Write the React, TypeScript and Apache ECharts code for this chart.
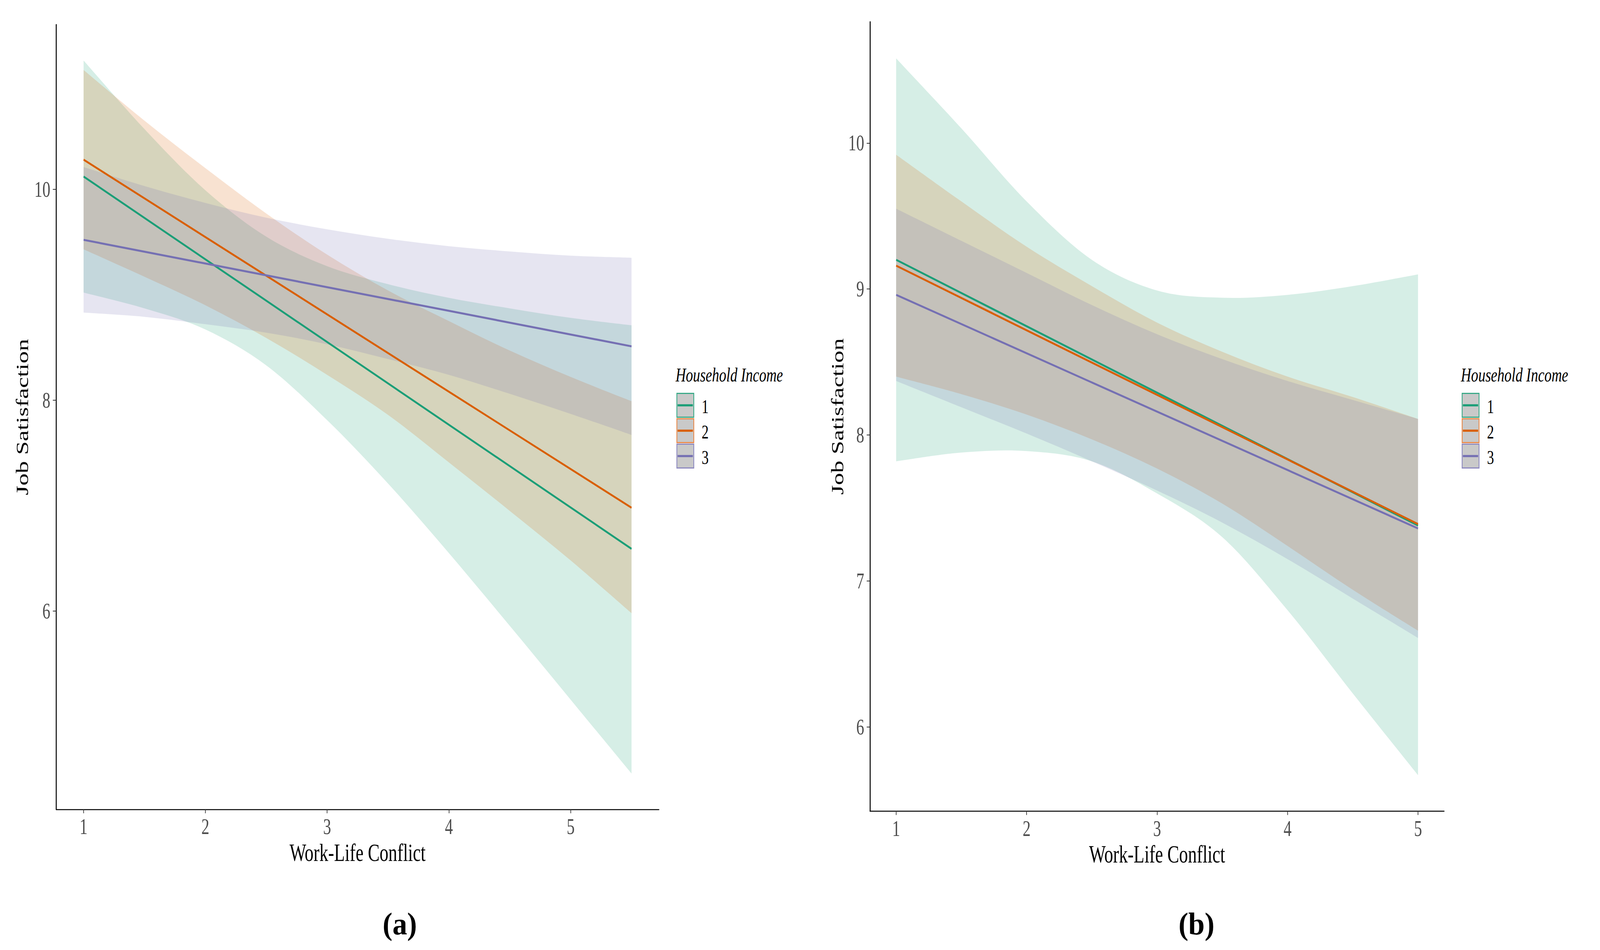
import React, { useEffect, useRef } from "react";
import * as echarts from "echarts";

// ---------- data ----------
const groups = ["1", "2", "3"];
const colors = ["#1B9E77", "#D95F02", "#7570B3"];
const fills = ["rgba(27,158,119,0.18)", "rgba(217,95,2,0.18)", "rgba(117,112,179,0.18)"];
const keyBorders = ["#3AAA88", "#E8894A", "#8E8AC0"];

// panel (a)
const xTicksA = [1, 2, 3, 4, 5];
const yTicksA = [6, 8, 10];
const lineXA = [1, 5.5];
const lineA1 = [10.12, 6.59];
const lineA2 = [10.28, 6.98];
const lineA3 = [9.52, 8.51];
const bandXA = [1, 1.5, 2, 2.5, 3, 3.5, 4, 4.5, 5, 5.5];
const upA1 = [11.22, 10.57, 9.99, 9.55, 9.27, 9.1, 8.97, 8.87, 8.78, 8.71];
const loA1 = [9.02, 8.87, 8.67, 8.33, 7.81, 7.21, 6.55, 5.86, 5.16, 4.46];
const upA2 = [11.13, 10.65, 10.2, 9.77, 9.38, 9.04, 8.75, 8.47, 8.22, 7.99];
const loA2 = [9.43, 9.17, 8.9, 8.59, 8.24, 7.86, 7.41, 6.95, 6.48, 5.98];
const upA3 = [10.21, 10.03, 9.87, 9.73, 9.62, 9.53, 9.46, 9.41, 9.37, 9.35];
const loA3 = [8.83, 8.79, 8.72, 8.64, 8.53, 8.39, 8.24, 8.06, 7.87, 7.67];

// panel (b)
const xTicksB = [1, 2, 3, 4, 5];
const yTicksB = [6, 7, 8, 9, 10];
const lineXB = [1, 5];
const lineB1 = [9.2, 7.38];
const lineB2 = [9.16, 7.39];
const lineB3 = [8.96, 7.36];
const bandXB = [1, 1.5, 2, 2.5, 3, 3.5, 4, 4.5, 5];
const upB1 = [10.58, 10.1, 9.6, 9.2, 8.99, 8.94, 8.96, 9.02, 9.1];
const loB1 = [7.82, 7.88, 7.89, 7.82, 7.6, 7.3, 6.8, 6.23, 5.67];
const upB2 = [9.92, 9.6, 9.29, 9.02, 8.77, 8.57, 8.4, 8.26, 8.11];
const loB2 = [8.4, 8.28, 8.14, 7.97, 7.77, 7.53, 7.24, 6.94, 6.66];
const upB3 = [9.55, 9.33, 9.11, 8.89, 8.69, 8.52, 8.37, 8.24, 8.11];
const loB3 = [8.37, 8.19, 8.01, 7.82, 7.62, 7.4, 7.15, 6.88, 6.61];

const xTitle = "Work-Life Conflict";
const yTitle = "Job Satisfaction";
const legendTitle = "Household Income";
const panelLabels = ["(a)", "(b)"];

// ---------- layout ----------
const W = 4346;
const H = 2433;
const SX = 0.76; // the reference plots are horizontally condensed
const WP = W / SX; // drawing width before the horizontal condensing
const FONT = "'Liberation Serif', 'Times New Roman', serif";

function smoothSeg(pts: number[][]): string {
  let d = "";
  for (let i = 0; i < pts.length - 1; i++) {
    const p0 = pts[i - 1] || pts[i];
    const p1 = pts[i];
    const p2 = pts[i + 1];
    const p3 = pts[i + 2] || p2;
    const c1x = p1[0] + (p2[0] - p0[0]) / 6;
    const c1y = p1[1] + (p2[1] - p0[1]) / 6;
    const c2x = p2[0] - (p3[0] - p1[0]) / 6;
    const c2y = p2[1] - (p3[1] - p1[1]) / 6;
    d += ` C${c1x},${c1y} ${c2x},${c2y} ${p2[0]},${p2[1]}`;
  }
  return d;
}

function ribbon(name: string, idx: number, xs: number[], lo: number[], hi: number[], fill: string) {
  return {
    type: "custom",
    name,
    xAxisIndex: idx,
    yAxisIndex: idx,
    silent: true,
    z: 1,
    encode: { x: 0, y: [1, 2] },
    data: xs.map((x, i) => [x, lo[i], hi[i]]),
    renderItem: (params: any, api: any) => {
      if (params.dataIndex !== 0) return null;
      const up = xs.map((x, i) => api.coord([x, hi[i]]));
      const dn = xs.map((x, i) => api.coord([x, lo[i]])).reverse();
      const d =
        `M${up[0][0]},${up[0][1]}` +
        smoothSeg(up) +
        ` L${dn[0][0]},${dn[0][1]}` +
        smoothSeg(dn) +
        " Z";
      return { type: "path", shape: { pathData: d }, style: { fill, stroke: "none" } };
    },
  };
}

function line(name: string, idx: number, xs: number[], ys: number[], color: string) {
  return {
    type: "line",
    name,
    xAxisIndex: idx,
    yAxisIndex: idx,
    silent: true,
    z: 3,
    symbol: "none",
    showSymbol: false,
    data: xs.map((x, i) => [x, ys[i]]),
    lineStyle: { color, width: 5.2 },
    itemStyle: { color },
  };
}

function xAxis(idx: number, min: number, max: number, ticks: number[]) {
  return {
    gridIndex: idx,
    type: "value",
    min,
    max,
    name: xTitle,
    nameLocation: "middle",
    nameGap: 79,
    nameTextStyle: { fontFamily: FONT, fontSize: 63, color: "#000" },
    axisLine: { onZero: false, lineStyle: { color: "#000", width: 2.7 } },
    axisTick: { show: true, length: 10, customValues: ticks, lineStyle: { color: "#333", width: 2.4 } },
    axisLabel: { customValues: ticks, margin: 16, fontFamily: FONT, fontSize: 57, color: "#4D4D4D" },
    splitLine: { show: false },
  };
}

function yAxis(idx: number, min: number, max: number, ticks: number[], gap: number) {
  return {
    gridIndex: idx,
    type: "value",
    min,
    max,
    name: yTitle,
    nameLocation: "middle",
    nameGap: gap,
    nameRotate: 90,
    nameTextStyle: { fontFamily: FONT, fontSize: 63, color: "#000" },
    axisLine: { onZero: false, lineStyle: { color: "#000", width: 3.5 } },
    axisTick: { show: true, length: 12, customValues: ticks, lineStyle: { color: "#333", width: 2 } },
    axisLabel: { customValues: ticks, margin: 21, fontFamily: FONT, fontSize: 57, color: "#4D4D4D" },
    splitLine: { show: false },
  };
}

function legendGraphics(dx: number) {
  const els: any[] = [];
  els.push({
    type: "text",
    x: 1835 / SX + dx,
    y: 960,
    style: {
      text: legendTitle,
      fontFamily: FONT,
      fontSize: 51,
      fontStyle: "italic",
      fill: "#000",
      align: "left",
      verticalAlign: "middle",
    },
  });
  const keyY = [1007.5, 1072.5, 1137.5];
  groups.forEach((g, i) => {
    const y = keyY[i];
    els.push({
      type: "rect",
      shape: { x: 1838.5 / SX + dx, y, width: 46 / SX, height: 61 },
      style: { fill: "#C9C9C9", stroke: keyBorders[i], lineWidth: 3 },
    });
    els.push({
      type: "line",
      shape: { x1: 1840.5 / SX + dx, y1: y + 30.5, x2: 1882 / SX + dx, y2: y + 30.5 },
      style: { stroke: colors[i], lineWidth: 5.5 },
    });
    els.push({
      type: "text",
      x: 1906 / SX + dx,
      y: y + 33,
      style: {
        text: g,
        fontFamily: FONT,
        fontSize: 50,
        fill: "#000",
        align: "left",
        verticalAlign: "middle",
      },
    });
  });
  return els;
}

function panelLabel(text: string, cx: number) {
  return {
    type: "text",
    x: cx / SX,
    y: 2366,
    scaleX: 1 / SX,
    style: {
      text,
      fontFamily: FONT,
      fontSize: 80,
      fontWeight: "bold",
      fill: "#000",
      align: "center",
      verticalAlign: "middle",
    },
  };
}

export default function App() {
  const ref = useRef<HTMLDivElement>(null);
  const vw = typeof window !== "undefined" && window.innerWidth ? window.innerWidth : W;
  const fit = vw / W; // fit the reference's width into the actual page width
  const sxEff = SX * fit;

  useEffect(() => {
    document.body.style.margin = "0";
    if (!ref.current) return;
    const chart = echarts.init(ref.current, null, { renderer: "svg" });
    const option: any = {
      animation: false,
      backgroundColor: "#fff",
      grid: [
        { left: 200.8, top: 63.2, width: 2154.2, height: 2009.6 },
        { left: 3109.6, top: 55.9, width: 2051.7, height: 2021.4 },
      ],
      xAxis: [xAxis(0, 0.775, 5.725, xTicksA), xAxis(1, 0.8, 5.2, xTicksB)],
      yAxis: [yAxis(0, 4.12, 11.56, yTicksA, 90), yAxis(1, 5.424, 10.83, yTicksB, 85)],
      series: [
        ribbon("a-1", 0, bandXA, loA1, upA1, fills[0]),
        ribbon("a-2", 0, bandXA, loA2, upA2, fills[1]),
        ribbon("a-3", 0, bandXA, loA3, upA3, fills[2]),
        line("a-line-1", 0, lineXA, lineA1, colors[0]),
        line("a-line-2", 0, lineXA, lineA2, colors[1]),
        line("a-line-3", 0, lineXA, lineA3, colors[2]),
        ribbon("b-1", 1, bandXB, loB1, upB1, fills[0]),
        ribbon("b-2", 1, bandXB, loB2, upB2, fills[1]),
        ribbon("b-3", 1, bandXB, loB3, upB3, fills[2]),
        line("b-line-1", 1, lineXB, lineB1, colors[0]),
        line("b-line-2", 1, lineXB, lineB2, colors[1]),
        line("b-line-3", 1, lineXB, lineB3, colors[2]),
      ],
      graphic: [
        ...legendGraphics(0),
        ...legendGraphics(2133 / SX),
        panelLabel(panelLabels[0], 1086),
        panelLabel(panelLabels[1], 3250),
      ],
    };
    chart.setOption(option);
    return () => chart.dispose();
  }, []);

  return (
    <div style={{ position: "relative", width: vw, height: H, overflow: "hidden", background: "#fff" }}>
      <div
        ref={ref}
        style={{
          width: WP,
          height: H,
          transform: `scaleX(${sxEff})`,
          transformOrigin: "0 0",
        }}
      />
    </div>
  );
}
